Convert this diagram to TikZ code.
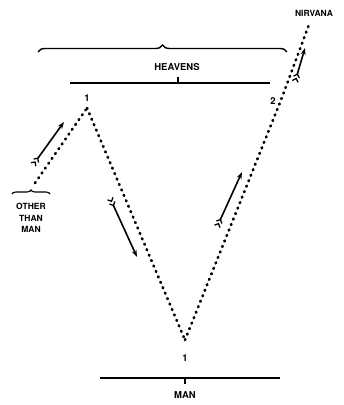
\documentclass[tikz,border=0pt]{standalone}
\usepackage{fontspec}
\setmainfont{TeX Gyre Heros}
\usetikzlibrary{arrows.meta,decorations.pathreplacing}
\begin{document}
\begin{tikzpicture}[x=1pt,y=1pt,
  lbl/.style={inner sep=0pt,font=\bfseries\fontsize{9.5}{10}\selectfont},
  num/.style={inner sep=0pt,font=\bfseries\fontsize{9.5}{10}\selectfont},
  dotline/.style={line width=2.7pt,line cap=round,dash pattern=on 0.9pt off 5pt},
  bar/.style={line width=1.6pt},
  brc/.style={line width=1.4pt,decorate,decoration={brace,amplitude=#1}},
  fletch/.style={line width=1.6pt,{Straight Barb[reversed,length=3pt,width=6pt,line width=1.3pt].Straight Barb[reversed,length=3pt,width=6pt,line width=1.3pt]}-{Stealth[length=7pt,width=5pt]}}
]
\useasboundingbox (0,0) rectangle (344,405);
% heavens
\draw[brc=7pt] (38,353) -- (287,353);
\node[lbl] (heavens) at (177,338) {HEAVENS};
\coordinate (hl) at (70,322);
\coordinate (hr) at (270,322);
\coordinate (ht) at (178,328);
\draw[bar] (hl) -- (hr);
\draw[line width=1.1pt] (178,322) -- (ht);
% man
\coordinate (ml) at (100,27);
\coordinate (mr) at (280,27);
\draw[bar] (ml) -- (mr);
\draw[line width=1.1pt] (185,27) -- (185,21);
\node[lbl] (man) at (185,10) {MAN};
% numbers
\node[num] (one) at (87,307) {1};
\node[num] (onebot) at (185,47) {1};
\node[num] (two) at (273,304) {2};
\node[lbl,font=\bfseries\fontsize{8.5}{10}\selectfont] (nirvana) at (314,392) {NIRVANA};
% other than man
\node[lbl,align=center,font=\bfseries\fontsize{8.5}{11.5}\selectfont] (other) at (31,187) {OTHER\\THAN\\MAN};
\draw[brc=4pt,line width=1.1pt] (12,211) -- (50,211);
% points
\coordinate (apex) at (87,297);
\coordinate (otop) at (35,222);
\coordinate (vtx) at (185,65);
\coordinate (p2) at (281,305);
\coordinate (nv) at (310,383);
% dotted paths
\draw[dotline] (otop) -- (apex);
\draw[dotline] (apex) -- (vtx);
\draw[dotline] (vtx) -- (p2) -- (nv);
% arrows
\coordinate (a1t) at (33,240); \coordinate (a1h) at (64,283);
\coordinate (a2t) at (110,207); \coordinate (a2h) at (137,148);
\coordinate (a3t) at (217,178); \coordinate (a3h) at (242,233);
\coordinate (a4t) at (295,323); \coordinate (a4h) at (305,357);
\draw[fletch] (a1t) -- (a1h);
\draw[fletch] (a2t) -- (a2h);
\draw[fletch] (a3t) -- (a3h);
\draw[fletch] (a4t) -- (a4h);
\end{tikzpicture}
\end{document}
